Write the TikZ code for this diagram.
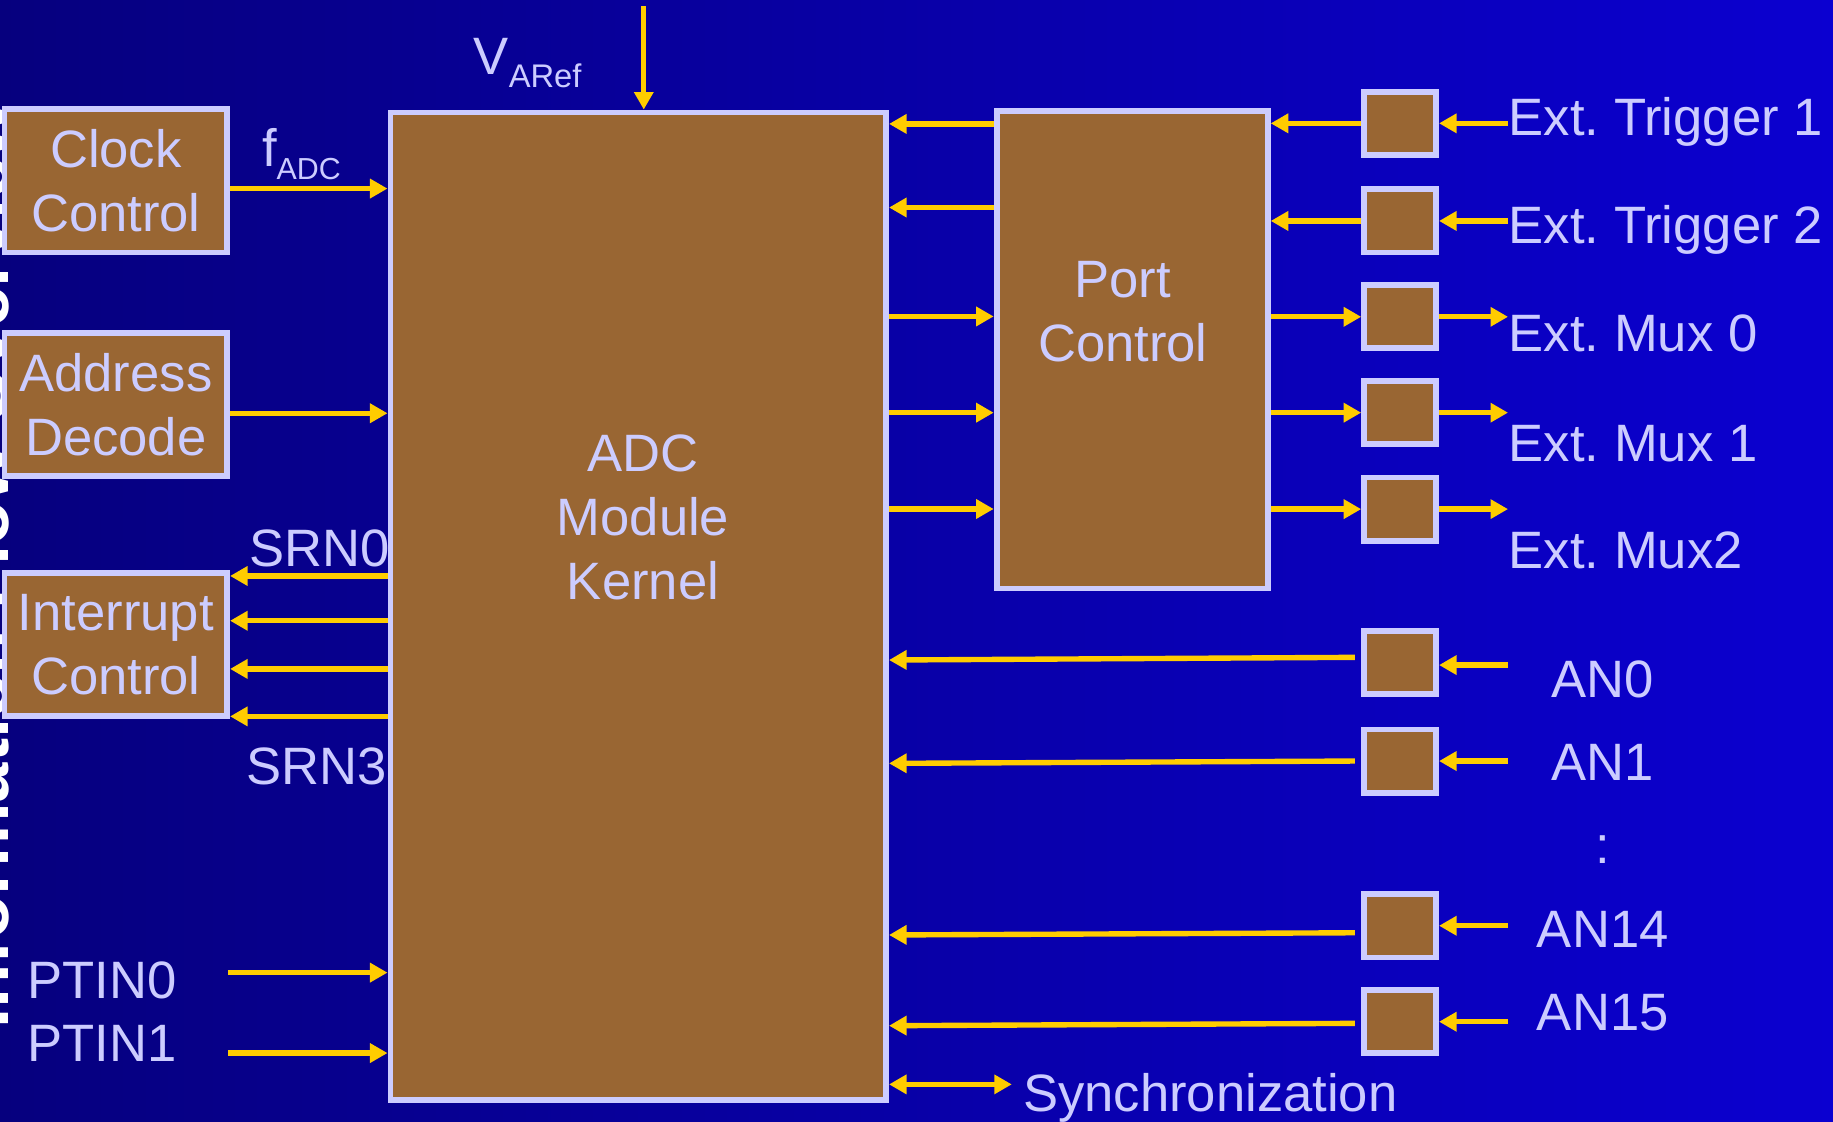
\documentclass[tikz,border=0pt]{standalone}
\usepackage{fontspec}
\setmainfont{Liberation Sans}
\usetikzlibrary{arrows.meta}
\definecolor{bgL}{HTML}{06007E}
\definecolor{bgR}{HTML}{0B00D0}
\definecolor{boxfill}{HTML}{996633}
\definecolor{lav}{HTML}{CCCCFF}
\definecolor{gold}{HTML}{FFCC00}
\frenchspacing
\begin{document}
\begin{tikzpicture}[x=1pt,y=-1pt,
  blk/.style={draw=lav, fill=boxfill, line width=5pt, inner sep=0pt, text=lav, align=center, font=\fontsize{45}{55}\selectfont},
  sq/.style={blk, minimum width=61.6pt, minimum height=54pt},
  txt/.style={text=lav, inner sep=0pt, font=\fontsize{45}{55}\selectfont},
  arr/.style={draw=gold, line width=4.6pt, -{Triangle[length=15pt,width=16pt]}},
  darr/.style={draw=gold, line width=4.6pt, {Triangle[length=15pt,width=16pt]}-{Triangle[length=15pt,width=16pt]}}]
\useasboundingbox (0,0) rectangle (1568,959);
\clip (0,0) rectangle (1568,959);
\shade[left color=bgL, right color=bgR] (0,0) rectangle (1568,959);

% cropped side title
\node[rotate=90, anchor=base west, inner sep=0pt, text=white, font=\bfseries\fontsize{62}{62}\selectfont] (side) at (7,880) {Information Flow Overview};

% labels lying under the kernel box
\node[txt, anchor=base west] (srn0) at (213,484.7) {SRN0};
\node[txt, anchor=base west] (srn3) at (210.5,671) {SRN3};

% blocks
\node[blk, minimum width=190.4pt, minimum height=122.5pt] (clk) at (99.1,154.75) {Clock\\Control};
\node[blk, minimum width=190.4pt, minimum height=122pt] (adr) at (99.1,346) {Address\\Decode};
\node[blk, minimum width=190.4pt, minimum height=122pt] (int) at (99.1,551.5) {Interrupt\\Control};
\node[blk, minimum width=424pt, minimum height=844.6pt] (adc) at (546,518.5) {};
\node[blk, minimum width=232pt, minimum height=408.5pt] (port) at (968.5,299.2) {};

\node[sq] (s1) at (1197.7,105.5) {};
\node[sq] (s2) at (1197.7,189) {};
\node[sq] (s3) at (1197.7,271) {};
\node[sq] (s4) at (1197.7,353) {};
\node[sq] (s5) at (1197.7,435.5) {};
\node[sq] (a0) at (1197.7,566.5) {};
\node[sq] (a1) at (1197.7,651) {};
\node[sq] (a14) at (1197.7,792) {};
\node[sq] (a15) at (1197.7,873.7) {};

% texts
\node[txt, anchor=base] (adct1) at (550,403) {ADC};
\node[txt, anchor=base] (adct2) at (550,458) {Module};
\node[txt, anchor=base] (adct3) at (550,513) {Kernel};
\node[txt, anchor=base] (portt1) at (960.5,254.5) {Port};
\node[txt, anchor=base] (portt2) at (960.5,309.5) {Control};

\node[txt, anchor=base west] (fadc) at (224,142) {f\raisebox{-11.7pt}{\fontsize{26}{26}\selectfont ADC}};
\node[txt, anchor=base west] (varef) at (405,63.3) {V\raisebox{-11.8pt}{\fontsize{28}{28}\selectfont ARef}};
\node[txt, anchor=base west] (ptin0) at (23.5,854.3) {PTIN0};
\node[txt, anchor=base west] (ptin1) at (23.5,908.2) {PTIN1};

\node[txt, anchor=base west] (et1) at (1290.5,115.5) {Ext. Trigger 1};
\node[txt, anchor=base west] (et2) at (1290.5,208.7) {Ext. Trigger 2};
\node[txt, anchor=base west] (em0) at (1290.5,301) {Ext. Mux 0};
\node[txt, anchor=base west] (em1) at (1290.5,395) {Ext. Mux 1};
\node[txt, anchor=base west] (em2) at (1290.5,486.7) {Ext. Mux2};

\node[txt, anchor=base] (an0) at (1371,596.5) {AN0};
\node[txt, anchor=base] (an1) at (1371,668) {AN1};
\node[txt, anchor=base] (dots) at (1371,739) {:};
\node[txt, anchor=base] (an14) at (1371,810.4) {AN14};
\node[txt, anchor=base] (an15) at (1371,881.7) {AN15};
\node[txt, anchor=base west] (sync) at (875,950.4) {Synchronization};

% free ends
\coordinate (pt0) at (195.3,832);
\coordinate (pt1) at (195.3,900.8);
\coordinate (vref) at (550.7,5.3);
\coordinate (xr) at (1290,0);
\coordinate (l0) at (1159,562.3);
\coordinate (l1) at (1159,651);
\coordinate (l14) at (1159,797.9);
\coordinate (l15) at (1159,875.4);
\coordinate (sy) at (865.5,927.6);

% connectors, left side
\draw[arr] (clk.east |- 0,161.3) -- (adc.west |- 0,161.3);
\draw[arr] (adr.east |- 0,353.5) -- (adc.west |- 0,353.5);
\foreach \yy in {492.7,531,572.2,612.8}
  \draw[arr] (adc.west |- 0,\yy) -- (int.east |- 0,\yy);
\draw[arr] (pt0) -- (adc.west |- pt0);
\draw[arr] (pt1) -- (adc.west |- pt1);
\draw[arr] (vref) -- (vref |- adc.north);

% kernel <-> port control
\foreach \yy in {106,177.5}
  \draw[arr] (port.west |- 0,\yy) -- (adc.east |- 0,\yy);
\foreach \yy in {270.7,353,435.4}
  \draw[arr] (adc.east |- 0,\yy) -- (port.west |- 0,\yy);

% port control <-> pads
\draw[arr] (s1.west) -- (port.east |- s1.west);
\draw[arr] (s2.west) -- (port.east |- s2.west);
\draw[arr] (port.east |- s3.west) -- (s3.west);
\draw[arr] (port.east |- s4.west) -- (s4.west);
\draw[arr] (port.east |- s5.west) -- (s5.west);

% pads <-> outside
\draw[arr] (s1.east -| xr) -- (s1.east);
\draw[arr] (s2.east -| xr) -- (s2.east);
\draw[arr] (s3.east) -- (s3.east -| xr);
\draw[arr] (s4.east) -- (s4.east -| xr);
\draw[arr] (s5.east) -- (s5.east -| xr);

% analog inputs
\draw[arr] (l0) -- (adc.east |- 0,564.6);
\draw[arr] (l1) -- (adc.east |- 0,653);
\draw[arr] (l14) -- (adc.east |- 0,799.8);
\draw[arr] (l15) -- (adc.east |- 0,877.4);
\draw[arr] (xr |- 0,568.9) -- (a0.east |- 0,568.9);
\draw[arr] (xr |- 0,651) -- (a1.east |- 0,651);
\draw[arr] (xr |- 0,791.9) -- (a14.east |- 0,791.9);
\draw[arr] (xr |- 0,874) -- (a15.east |- 0,874);

% synchronization
\draw[darr] (adc.east |- sy) -- (sy);
\end{tikzpicture}
\end{document}
